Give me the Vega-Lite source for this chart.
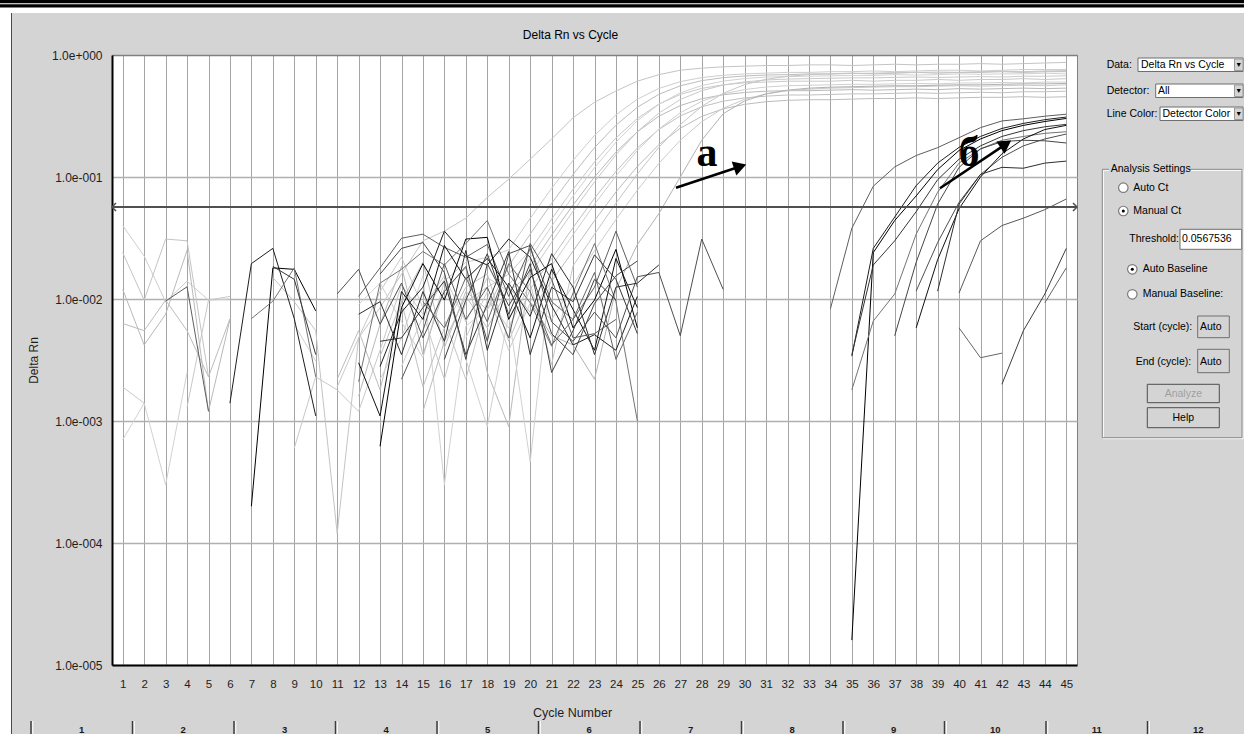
{
"$schema": "https://vega.github.io/schema/vega-lite/v6.json",
"background": "#d4d4d4",
"padding": 0,
"autosize": {"type": "pad"},
"spacing": 0,
"bounds": "full",
"config": {"view": {"stroke": null}, "font": "Liberation Sans", "concat": {"spacing": 0}, "axis": {"labelOverlap": false}},
"datasets": {
"curves": [
{"s":"L1","c":1,"v":0.024},{"s":"L1","c":2,"v":0.0098},{"s":"L1","c":3,"v":0.031},{"s":"L1","c":4,"v":0.03},{"s":"L1","c":5,"v":0.0023},{"s":"L1","c":6,"v":null},{"s":"L1","c":8,"v":0.015},{"s":"L1","c":9,"v":0.0095},{"s":"L1","c":10,"v":0.0055},{"s":"L1","c":11,"v":0.00012},{"s":"L1","c":12,"v":0.0048},{"s":"L1","c":13,"v":0.0085},{"s":"L1","c":14,"v":0.016},{"s":"L1","c":15,"v":0.03},{"s":"L1","c":16,"v":0.036},{"s":"L1","c":17,"v":0.046},{"s":"L1","c":18,"v":0.068},{"s":"L1","c":19,"v":0.096},{"s":"L1","c":20,"v":0.14},{"s":"L1","c":21,"v":0.205},{"s":"L1","c":22,"v":0.306},{"s":"L1","c":23,"v":0.41},{"s":"L1","c":24,"v":0.507},{"s":"L1","c":25,"v":0.61},{"s":"L1","c":26,"v":0.69},{"s":"L1","c":27,"v":0.75},{"s":"L1","c":28,"v":0.78},{"s":"L1","c":29,"v":0.8},{"s":"L1","c":30,"v":0.81},{"s":"L1","c":31,"v":0.82},{"s":"L1","c":32,"v":0.82},{"s":"L1","c":33,"v":0.83},{"s":"L1","c":34,"v":0.83},{"s":"L1","c":35,"v":0.82},{"s":"L1","c":36,"v":0.83},{"s":"L1","c":37,"v":0.84},{"s":"L1","c":38,"v":0.83},{"s":"L1","c":39,"v":0.84},{"s":"L1","c":40,"v":0.84},{"s":"L1","c":41,"v":0.85},{"s":"L1","c":42,"v":0.84},{"s":"L1","c":43,"v":0.85},{"s":"L1","c":44,"v":0.86},{"s":"L1","c":45,"v":0.87},
{"s":"L2","c":1,"v":0.04},{"s":"L2","c":2,"v":0.0225},{"s":"L2","c":3,"v":0.0095},{"s":"L2","c":4,"v":0.014},{"s":"L2","c":5,"v":0.0098},{"s":"L2","c":6,"v":0.01},{"s":"L2","c":7,"v":null},{"s":"L2","c":12,"v":0.009},{"s":"L2","c":13,"v":0.0135},{"s":"L2","c":14,"v":0.0065},{"s":"L2","c":15,"v":0.0033},{"s":"L2","c":16,"v":0.014},{"s":"L2","c":17,"v":0.02},{"s":"L2","c":18,"v":0.022},{"s":"L2","c":19,"v":0.0253},{"s":"L2","c":20,"v":0.0457},{"s":"L2","c":21,"v":0.0807},{"s":"L2","c":22,"v":0.137},{"s":"L2","c":23,"v":0.219},{"s":"L2","c":24,"v":0.323},{"s":"L2","c":25,"v":0.434},{"s":"L2","c":26,"v":0.532},{"s":"L2","c":27,"v":0.605},{"s":"L2","c":28,"v":0.653},{"s":"L2","c":29,"v":0.682},{"s":"L2","c":30,"v":0.7},{"s":"L2","c":31,"v":0.71},{"s":"L2","c":32,"v":0.72},{"s":"L2","c":33,"v":0.72},{"s":"L2","c":34,"v":0.73},{"s":"L2","c":35,"v":0.73},{"s":"L2","c":36,"v":0.74},{"s":"L2","c":37,"v":0.73},{"s":"L2","c":38,"v":0.74},{"s":"L2","c":39,"v":0.75},{"s":"L2","c":40,"v":0.75},{"s":"L2","c":41,"v":0.74},{"s":"L2","c":42,"v":0.75},{"s":"L2","c":43,"v":0.76},{"s":"L2","c":44,"v":0.76},{"s":"L2","c":45,"v":0.76},
{"s":"L3","c":1,"v":0.0063},{"s":"L3","c":2,"v":0.0055},{"s":"L3","c":3,"v":0.0098},{"s":"L3","c":4,"v":0.0055},{"s":"L3","c":5,"v":0.0023},{"s":"L3","c":6,"v":0.0069},{"s":"L3","c":7,"v":null},{"s":"L3","c":11,"v":0.0022},{"s":"L3","c":12,"v":0.0055},{"s":"L3","c":13,"v":0.0018},{"s":"L3","c":14,"v":0.0095},{"s":"L3","c":15,"v":0.02},{"s":"L3","c":16,"v":0.004},{"s":"L3","c":17,"v":0.0115},{"s":"L3","c":18,"v":0.0082},{"s":"L3","c":19,"v":0.0187},{"s":"L3","c":20,"v":0.034},{"s":"L3","c":21,"v":0.0608},{"s":"L3","c":22,"v":0.105},{"s":"L3","c":23,"v":0.174},{"s":"L3","c":24,"v":0.266},{"s":"L3","c":25,"v":0.373},{"s":"L3","c":26,"v":0.476},{"s":"L3","c":27,"v":0.559},{"s":"L3","c":28,"v":0.616},{"s":"L3","c":29,"v":0.652},{"s":"L3","c":30,"v":0.673},{"s":"L3","c":31,"v":0.685},{"s":"L3","c":32,"v":0.69},{"s":"L3","c":33,"v":0.7},{"s":"L3","c":34,"v":0.7},{"s":"L3","c":35,"v":0.71},{"s":"L3","c":36,"v":0.7},{"s":"L3","c":37,"v":0.71},{"s":"L3","c":38,"v":0.72},{"s":"L3","c":39,"v":0.71},{"s":"L3","c":40,"v":0.72},{"s":"L3","c":41,"v":0.72},{"s":"L3","c":42,"v":0.73},{"s":"L3","c":43,"v":0.72},{"s":"L3","c":44,"v":0.73},{"s":"L3","c":45,"v":0.73},
{"s":"L4","c":1,"v":0.0019},{"s":"L4","c":2,"v":0.0014},{"s":"L4","c":3,"v":null},{"s":"L4","c":4,"v":0.0013},{"s":"L4","c":5,"v":0.0098},{"s":"L4","c":6,"v":0.0105},{"s":"L4","c":7,"v":null},{"s":"L4","c":9,"v":0.0006},{"s":"L4","c":10,"v":0.0023},{"s":"L4","c":11,"v":0.0018},{"s":"L4","c":12,"v":0.0012},{"s":"L4","c":13,"v":0.0038},{"s":"L4","c":14,"v":0.013},{"s":"L4","c":15,"v":0.0075},{"s":"L4","c":16,"v":0.0022},{"s":"L4","c":17,"v":0.0095},{"s":"L4","c":18,"v":0.0125},{"s":"L4","c":19,"v":0.016},{"s":"L4","c":20,"v":0.0251},{"s":"L4","c":21,"v":0.0452},{"s":"L4","c":22,"v":0.0793},{"s":"L4","c":23,"v":0.133},{"s":"L4","c":24,"v":0.209},{"s":"L4","c":25,"v":0.302},{"s":"L4","c":26,"v":0.396},{"s":"L4","c":27,"v":0.475},{"s":"L4","c":28,"v":0.532},{"s":"L4","c":29,"v":0.57},{"s":"L4","c":30,"v":0.592},{"s":"L4","c":31,"v":0.6},{"s":"L4","c":32,"v":0.61},{"s":"L4","c":33,"v":0.61},{"s":"L4","c":34,"v":0.61},{"s":"L4","c":35,"v":0.62},{"s":"L4","c":36,"v":0.61},{"s":"L4","c":37,"v":0.62},{"s":"L4","c":38,"v":0.62},{"s":"L4","c":39,"v":0.63},{"s":"L4","c":40,"v":0.62},{"s":"L4","c":41,"v":0.63},{"s":"L4","c":42,"v":0.63},{"s":"L4","c":43,"v":0.64},{"s":"L4","c":44,"v":0.63},{"s":"L4","c":45,"v":0.64},
{"s":"L5","c":1,"v":0.0007},{"s":"L5","c":2,"v":0.0014},{"s":"L5","c":3,"v":0.0003},{"s":"L5","c":4,"v":0.0025},{"s":"L5","c":5,"v":null},{"s":"L5","c":9,"v":0.0062},{"s":"L5","c":10,"v":0.0031},{"s":"L5","c":11,"v":null},{"s":"L5","c":13,"v":0.0022},{"s":"L5","c":14,"v":0.0048},{"s":"L5","c":15,"v":0.0155},{"s":"L5","c":16,"v":0.0003},{"s":"L5","c":17,"v":0.006},{"s":"L5","c":18,"v":0.0082},{"s":"L5","c":19,"v":0.013},{"s":"L5","c":20,"v":0.0217},{"s":"L5","c":21,"v":0.0394},{"s":"L5","c":22,"v":0.0698},{"s":"L5","c":23,"v":0.119},{"s":"L5","c":24,"v":0.193},{"s":"L5","c":25,"v":0.289},{"s":"L5","c":26,"v":0.394},{"s":"L5","c":27,"v":0.489},{"s":"L5","c":28,"v":0.562},{"s":"L5","c":29,"v":0.611},{"s":"L5","c":30,"v":0.641},{"s":"L5","c":31,"v":0.66},{"s":"L5","c":32,"v":0.665},{"s":"L5","c":33,"v":0.67},{"s":"L5","c":34,"v":0.675},{"s":"L5","c":35,"v":0.68},{"s":"L5","c":36,"v":0.68},{"s":"L5","c":37,"v":0.69},{"s":"L5","c":38,"v":0.685},{"s":"L5","c":39,"v":0.69},{"s":"L5","c":40,"v":0.7},{"s":"L5","c":41,"v":0.695},{"s":"L5","c":42,"v":0.7},{"s":"L5","c":43,"v":0.7},{"s":"L5","c":44,"v":0.71},{"s":"L5","c":45,"v":0.7},
{"s":"L6","c":1,"v":0.012},{"s":"L6","c":2,"v":0.0042},{"s":"L6","c":3,"v":0.0075},{"s":"L6","c":4,"v":0.025},{"s":"L6","c":5,"v":0.0012},{"s":"L6","c":6,"v":0.0068},{"s":"L6","c":7,"v":null},{"s":"L6","c":12,"v":0.0016},{"s":"L6","c":13,"v":0.0062},{"s":"L6","c":14,"v":0.0185},{"s":"L6","c":15,"v":0.0035},{"s":"L6","c":16,"v":0.012},{"s":"L6","c":17,"v":0.018},{"s":"L6","c":18,"v":0.0025},{"s":"L6","c":19,"v":0.0009},{"s":"L6","c":20,"v":0.0185},{"s":"L6","c":21,"v":0.0334},{"s":"L6","c":22,"v":0.059},{"s":"L6","c":23,"v":0.1},{"s":"L6","c":24,"v":0.16},{"s":"L6","c":25,"v":0.235},{"s":"L6","c":26,"v":0.315},{"s":"L6","c":27,"v":0.385},{"s":"L6","c":28,"v":0.438},{"s":"L6","c":29,"v":0.472},{"s":"L6","c":30,"v":0.493},{"s":"L6","c":31,"v":0.505},{"s":"L6","c":32,"v":0.51},{"s":"L6","c":33,"v":0.51},{"s":"L6","c":34,"v":0.515},{"s":"L6","c":35,"v":0.52},{"s":"L6","c":36,"v":0.515},{"s":"L6","c":37,"v":0.52},{"s":"L6","c":38,"v":0.525},{"s":"L6","c":39,"v":0.52},{"s":"L6","c":40,"v":0.53},{"s":"L6","c":41,"v":0.525},{"s":"L6","c":42,"v":0.53},{"s":"L6","c":43,"v":0.535},{"s":"L6","c":44,"v":0.53},{"s":"L6","c":45,"v":0.535},
{"s":"L7","c":11,"v":0.0019},{"s":"L7","c":12,"v":0.0048},{"s":"L7","c":13,"v":0.0115},{"s":"L7","c":14,"v":0.022},{"s":"L7","c":15,"v":0.0085},{"s":"L7","c":16,"v":0.0155},{"s":"L7","c":17,"v":0.0065},{"s":"L7","c":18,"v":0.015},{"s":"L7","c":19,"v":0.0115},{"s":"L7","c":20,"v":0.016},{"s":"L7","c":21,"v":0.0292},{"s":"L7","c":22,"v":0.0524},{"s":"L7","c":23,"v":0.0912},{"s":"L7","c":24,"v":0.152},{"s":"L7","c":25,"v":0.235},{"s":"L7","c":26,"v":0.334},{"s":"L7","c":27,"v":0.431},{"s":"L7","c":28,"v":0.51},{"s":"L7","c":29,"v":0.567},{"s":"L7","c":30,"v":0.602},{"s":"L7","c":31,"v":0.624},{"s":"L7","c":32,"v":0.635},{"s":"L7","c":33,"v":0.64},{"s":"L7","c":34,"v":0.645},{"s":"L7","c":35,"v":0.65},{"s":"L7","c":36,"v":0.65},{"s":"L7","c":37,"v":0.655},{"s":"L7","c":38,"v":0.66},{"s":"L7","c":39,"v":0.655},{"s":"L7","c":40,"v":0.66},{"s":"L7","c":41,"v":0.665},{"s":"L7","c":42,"v":0.66},{"s":"L7","c":43,"v":0.67},{"s":"L7","c":44,"v":0.67},{"s":"L7","c":45,"v":0.675},
{"s":"L8","c":13,"v":0.0034},{"s":"L8","c":14,"v":0.0095},{"s":"L8","c":15,"v":0.0019},{"s":"L8","c":16,"v":0.0058},{"s":"L8","c":17,"v":0.0125},{"s":"L8","c":18,"v":0.016},{"s":"L8","c":19,"v":0.0045},{"s":"L8","c":20,"v":0.012},{"s":"L8","c":21,"v":0.0214},{"s":"L8","c":22,"v":0.0385},{"s":"L8","c":23,"v":0.067},{"s":"L8","c":24,"v":0.111},{"s":"L8","c":25,"v":0.173},{"s":"L8","c":26,"v":0.245},{"s":"L8","c":27,"v":0.317},{"s":"L8","c":28,"v":0.376},{"s":"L8","c":29,"v":0.418},{"s":"L8","c":30,"v":0.445},{"s":"L8","c":31,"v":0.46},{"s":"L8","c":32,"v":0.47},{"s":"L8","c":33,"v":0.47},{"s":"L8","c":34,"v":0.475},{"s":"L8","c":35,"v":0.48},{"s":"L8","c":36,"v":0.48},{"s":"L8","c":37,"v":0.485},{"s":"L8","c":38,"v":0.49},{"s":"L8","c":39,"v":0.485},{"s":"L8","c":40,"v":0.49},{"s":"L8","c":41,"v":0.495},{"s":"L8","c":42,"v":0.49},{"s":"L8","c":43,"v":0.5},{"s":"L8","c":44,"v":0.5},{"s":"L8","c":45,"v":0.505},
{"s":"L9","c":14,"v":0.0028},{"s":"L9","c":15,"v":0.0072},{"s":"L9","c":16,"v":0.0145},{"s":"L9","c":17,"v":0.0032},{"s":"L9","c":18,"v":0.0009},{"s":"L9","c":19,"v":0.0075},{"s":"L9","c":20,"v":0.00046},{"s":"L9","c":21,"v":0.0186},{"s":"L9","c":22,"v":0.0336},{"s":"L9","c":23,"v":0.0597},{"s":"L9","c":24,"v":0.102},{"s":"L9","c":25,"v":0.165},{"s":"L9","c":26,"v":0.247},{"s":"L9","c":27,"v":0.336},{"s":"L9","c":28,"v":0.417},{"s":"L9","c":29,"v":0.48},{"s":"L9","c":30,"v":0.521},{"s":"L9","c":31,"v":0.547},{"s":"L9","c":32,"v":0.56},{"s":"L9","c":33,"v":0.565},{"s":"L9","c":34,"v":0.57},{"s":"L9","c":35,"v":0.575},{"s":"L9","c":36,"v":0.575},{"s":"L9","c":37,"v":0.58},{"s":"L9","c":38,"v":0.585},{"s":"L9","c":39,"v":0.58},{"s":"L9","c":40,"v":0.59},{"s":"L9","c":41,"v":0.59},{"s":"L9","c":42,"v":0.595},{"s":"L9","c":43,"v":0.59},{"s":"L9","c":44,"v":0.6},{"s":"L9","c":45,"v":0.6},
{"s":"L10","c":15,"v":0.0012},{"s":"L10","c":16,"v":0.0045},{"s":"L10","c":17,"v":0.0105},{"s":"L10","c":18,"v":0.0058},{"s":"L10","c":19,"v":0.0125},{"s":"L10","c":20,"v":0.0078},{"s":"L10","c":21,"v":0.014},{"s":"L10","c":22,"v":0.0247},{"s":"L10","c":23,"v":0.0439},{"s":"L10","c":24,"v":0.0753},{"s":"L10","c":25,"v":0.122},{"s":"L10","c":26,"v":0.184},{"s":"L10","c":27,"v":0.251},{"s":"L10","c":28,"v":0.314},{"s":"L10","c":29,"v":0.362},{"s":"L10","c":30,"v":0.394},{"s":"L10","c":31,"v":0.414},{"s":"L10","c":32,"v":0.425},{"s":"L10","c":33,"v":0.43},{"s":"L10","c":34,"v":0.43},{"s":"L10","c":35,"v":0.435},{"s":"L10","c":36,"v":0.44},{"s":"L10","c":37,"v":0.44},{"s":"L10","c":38,"v":0.445},{"s":"L10","c":39,"v":0.44},{"s":"L10","c":40,"v":0.445},{"s":"L10","c":41,"v":0.45},{"s":"L10","c":42,"v":0.45},{"s":"L10","c":43,"v":0.455},{"s":"L10","c":44,"v":0.45},{"s":"L10","c":45,"v":0.455},
{"s":"L11","c":16,"v":0.0068},{"s":"L11","c":17,"v":0.0022},{"s":"L11","c":18,"v":0.0098},{"s":"L11","c":19,"v":0.0058},{"s":"L11","c":20,"v":0.0135},{"s":"L11","c":21,"v":0.0029},{"s":"L11","c":22,"v":0.0187},{"s":"L11","c":23,"v":0.034},{"s":"L11","c":24,"v":0.061},{"s":"L11","c":25,"v":0.106},{"s":"L11","c":26,"v":0.175},{"s":"L11","c":27,"v":0.269},{"s":"L11","c":28,"v":0.379},{"s":"L11","c":29,"v":0.485},{"s":"L11","c":30,"v":0.572},{"s":"L11","c":31,"v":0.632},{"s":"L11","c":32,"v":0.67},{"s":"L11","c":33,"v":0.69},{"s":"L11","c":34,"v":0.7},{"s":"L11","c":35,"v":0.705},{"s":"L11","c":36,"v":0.71},{"s":"L11","c":37,"v":0.715},{"s":"L11","c":38,"v":0.72},{"s":"L11","c":39,"v":0.725},{"s":"L11","c":40,"v":0.72},{"s":"L11","c":41,"v":0.73},{"s":"L11","c":42,"v":0.735},{"s":"L11","c":43,"v":0.73},{"s":"L11","c":44,"v":0.74},{"s":"L11","c":45,"v":0.745},
{"s":"L12","c":17,"v":0.0048},{"s":"L12","c":18,"v":0.0115},{"s":"L12","c":19,"v":0.0038},{"s":"L12","c":20,"v":0.0092},{"s":"L12","c":21,"v":0.0068},{"s":"L12","c":22,"v":0.013},{"s":"L12","c":23,"v":0.025},{"s":"L12","c":24,"v":0.0448},{"s":"L12","c":25,"v":0.078},{"s":"L12","c":26,"v":0.129},{"s":"L12","c":27,"v":0.2},{"s":"L12","c":28,"v":0.284},{"s":"L12","c":29,"v":0.366},{"s":"L12","c":30,"v":0.433},{"s":"L12","c":31,"v":0.48},{"s":"L12","c":32,"v":0.51},{"s":"L12","c":33,"v":0.525},{"s":"L12","c":34,"v":0.535},{"s":"L12","c":35,"v":0.54},{"s":"L12","c":36,"v":0.545},{"s":"L12","c":37,"v":0.55},{"s":"L12","c":38,"v":0.55},{"s":"L12","c":39,"v":0.555},{"s":"L12","c":40,"v":0.56},{"s":"L12","c":41,"v":0.555},{"s":"L12","c":42,"v":0.56},{"s":"L12","c":43,"v":0.565},{"s":"L12","c":44,"v":0.56},{"s":"L12","c":45,"v":0.57},
{"s":"L13","c":20,"v":0.0095},{"s":"L13","c":21,"v":0.005},{"s":"L13","c":22,"v":0.0042},{"s":"L13","c":23,"v":0.0022},{"s":"L13","c":24,"v":0.012},{"s":"L13","c":25,"v":0.028},{"s":"L13","c":26,"v":0.05},{"s":"L13","c":27,"v":0.1},{"s":"L13","c":28,"v":0.2},{"s":"L13","c":29,"v":0.33},{"s":"L13","c":30,"v":0.42},{"s":"L13","c":31,"v":0.48},{"s":"L13","c":32,"v":0.515},{"s":"L13","c":33,"v":0.535},{"s":"L13","c":34,"v":0.545},{"s":"L13","c":35,"v":0.55},{"s":"L13","c":36,"v":0.555},{"s":"L13","c":37,"v":0.56},{"s":"L13","c":38,"v":0.56},{"s":"L13","c":39,"v":0.565},{"s":"L13","c":40,"v":0.57},{"s":"L13","c":41,"v":0.57},{"s":"L13","c":42,"v":0.575},{"s":"L13","c":43,"v":0.58},{"s":"L13","c":44,"v":0.58},{"s":"L13","c":45,"v":0.585},
{"s":"D1","c":3,"v":0.0096},{"s":"D1","c":4,"v":0.0126},{"s":"D1","c":5,"v":0.0012},{"s":"D1","c":6,"v":null},{"s":"D1","c":12,"v":0.0105},{"s":"D1","c":13,"v":0.018},{"s":"D1","c":14,"v":0.0315},{"s":"D1","c":15,"v":0.034},{"s":"D1","c":16,"v":0.0265},{"s":"D1","c":17,"v":0.022},{"s":"D1","c":18,"v":0.028},{"s":"D1","c":19,"v":0.0105},{"s":"D1","c":20,"v":0.026},{"s":"D1","c":21,"v":0.0095},{"s":"D1","c":22,"v":0.0068},{"s":"D1","c":23,"v":0.0125},{"s":"D1","c":24,"v":0.036},{"s":"D1","c":25,"v":0.0125},{"s":"D1","c":26,"v":null},{"s":"D1","c":34,"v":0.0083},{"s":"D1","c":35,"v":0.038},{"s":"D1","c":36,"v":0.084},{"s":"D1","c":37,"v":0.121},{"s":"D1","c":38,"v":0.15},{"s":"D1","c":39,"v":0.174},{"s":"D1","c":40,"v":0.21},{"s":"D1","c":41,"v":0.254},{"s":"D1","c":42,"v":0.288},{"s":"D1","c":43,"v":0.3},{"s":"D1","c":44,"v":0.315},{"s":"D1","c":45,"v":0.327},
{"s":"D2","c":6,"v":0.0014},{"s":"D2","c":7,"v":0.0195},{"s":"D2","c":8,"v":0.026},{"s":"D2","c":9,"v":0.0069},{"s":"D2","c":10,"v":0.0011},{"s":"D2","c":11,"v":null},{"s":"D2","c":13,"v":0.0028},{"s":"D2","c":14,"v":0.0078},{"s":"D2","c":15,"v":0.0125},{"s":"D2","c":16,"v":0.036},{"s":"D2","c":17,"v":0.0225},{"s":"D2","c":18,"v":0.019},{"s":"D2","c":19,"v":0.031},{"s":"D2","c":20,"v":0.022},{"s":"D2","c":21,"v":0.0088},{"s":"D2","c":22,"v":0.0042},{"s":"D2","c":23,"v":0.0051},{"s":"D2","c":24,"v":0.0038},{"s":"D2","c":25,"v":0.0105},{"s":"D2","c":26,"v":null},{"s":"D2","c":35,"v":0.0034},{"s":"D2","c":36,"v":0.026},{"s":"D2","c":37,"v":0.047},{"s":"D2","c":38,"v":0.085},{"s":"D2","c":39,"v":0.13},{"s":"D2","c":40,"v":0.175},{"s":"D2","c":41,"v":0.215},{"s":"D2","c":42,"v":0.25},{"s":"D2","c":43,"v":0.275},{"s":"D2","c":44,"v":0.295},{"s":"D2","c":45,"v":0.31},
{"s":"D3","c":7,"v":0.0002},{"s":"D3","c":8,"v":0.018},{"s":"D3","c":9,"v":0.0175},{"s":"D3","c":10,"v":0.008},{"s":"D3","c":11,"v":null},{"s":"D3","c":13,"v":0.00062},{"s":"D3","c":14,"v":0.0085},{"s":"D3","c":15,"v":0.0195},{"s":"D3","c":16,"v":0.0098},{"s":"D3","c":17,"v":0.031},{"s":"D3","c":18,"v":0.032},{"s":"D3","c":19,"v":0.0068},{"s":"D3","c":20,"v":0.015},{"s":"D3","c":21,"v":0.0195},{"s":"D3","c":22,"v":0.0058},{"s":"D3","c":23,"v":0.0098},{"s":"D3","c":24,"v":0.0255},{"s":"D3","c":25,"v":0.0058},{"s":"D3","c":26,"v":null},{"s":"D3","c":35,"v":0.000016},{"s":"D3","c":36,"v":0.024},{"s":"D3","c":37,"v":0.044},{"s":"D3","c":38,"v":0.07},{"s":"D3","c":39,"v":0.115},{"s":"D3","c":40,"v":0.165},{"s":"D3","c":41,"v":0.205},{"s":"D3","c":42,"v":0.24},{"s":"D3","c":43,"v":0.265},{"s":"D3","c":44,"v":0.285},{"s":"D3","c":45,"v":0.302},
{"s":"D4","c":7,"v":0.0069},{"s":"D4","c":8,"v":0.0096},{"s":"D4","c":9,"v":0.018},{"s":"D4","c":10,"v":0.0023},{"s":"D4","c":11,"v":null},{"s":"D4","c":12,"v":0.0021},{"s":"D4","c":13,"v":0.0135},{"s":"D4","c":14,"v":0.0175},{"s":"D4","c":15,"v":0.0245},{"s":"D4","c":16,"v":0.019},{"s":"D4","c":17,"v":0.0285},{"s":"D4","c":18,"v":0.044},{"s":"D4","c":19,"v":0.016},{"s":"D4","c":20,"v":0.0093},{"s":"D4","c":21,"v":0.0041},{"s":"D4","c":22,"v":0.0112},{"s":"D4","c":23,"v":0.0285},{"s":"D4","c":24,"v":0.0095},{"s":"D4","c":25,"v":0.001},{"s":"D4","c":26,"v":null},{"s":"D4","c":35,"v":0.0018},{"s":"D4","c":36,"v":0.0066},{"s":"D4","c":37,"v":0.011},{"s":"D4","c":38,"v":0.034},{"s":"D4","c":39,"v":0.075},{"s":"D4","c":40,"v":0.13},{"s":"D4","c":41,"v":0.17},{"s":"D4","c":42,"v":0.2},{"s":"D4","c":43,"v":0.215},{"s":"D4","c":44,"v":0.228},{"s":"D4","c":45,"v":0.235},
{"s":"D5","c":8,"v":0.0185},{"s":"D5","c":9,"v":0.0145},{"s":"D5","c":10,"v":0.0035},{"s":"D5","c":11,"v":null},{"s":"D5","c":13,"v":0.0045},{"s":"D5","c":14,"v":0.0048},{"s":"D5","c":15,"v":0.0085},{"s":"D5","c":16,"v":0.014},{"s":"D5","c":17,"v":0.0035},{"s":"D5","c":18,"v":0.009},{"s":"D5","c":19,"v":0.0245},{"s":"D5","c":20,"v":0.0035},{"s":"D5","c":21,"v":0.0125},{"s":"D5","c":22,"v":0.0095},{"s":"D5","c":23,"v":0.023},{"s":"D5","c":24,"v":0.0145},{"s":"D5","c":25,"v":0.0052},{"s":"D5","c":26,"v":null},{"s":"D5","c":35,"v":0.0035},{"s":"D5","c":36,"v":0.019},{"s":"D5","c":37,"v":0.03},{"s":"D5","c":38,"v":0.052},{"s":"D5","c":39,"v":0.095},{"s":"D5","c":40,"v":0.14},{"s":"D5","c":41,"v":0.18},{"s":"D5","c":42,"v":0.215},{"s":"D5","c":43,"v":0.24},{"s":"D5","c":44,"v":0.258},{"s":"D5","c":45,"v":0.27},
{"s":"D6","c":11,"v":0.011},{"s":"D6","c":12,"v":0.0175},{"s":"D6","c":13,"v":0.0062},{"s":"D6","c":14,"v":0.0135},{"s":"D6","c":15,"v":0.0048},{"s":"D6","c":16,"v":0.0115},{"s":"D6","c":17,"v":0.0185},{"s":"D6","c":18,"v":0.0045},{"s":"D6","c":19,"v":0.0235},{"s":"D6","c":20,"v":0.0275},{"s":"D6","c":21,"v":0.0065},{"s":"D6","c":22,"v":0.0045},{"s":"D6","c":23,"v":0.0078},{"s":"D6","c":24,"v":0.0048},{"s":"D6","c":25,"v":0.0152},{"s":"D6","c":26,"v":0.0165},{"s":"D6","c":27,"v":0.005},{"s":"D6","c":28,"v":0.031},{"s":"D6","c":29,"v":0.012},{"s":"D6","c":30,"v":null},{"s":"D6","c":38,"v":0.0116},{"s":"D6","c":39,"v":0.029},{"s":"D6","c":40,"v":0.062},{"s":"D6","c":41,"v":0.105},{"s":"D6","c":42,"v":0.145},{"s":"D6","c":43,"v":0.18},{"s":"D6","c":44,"v":0.205},{"s":"D6","c":45,"v":0.225},
{"s":"D7","c":12,"v":0.003},{"s":"D7","c":13,"v":0.0011},{"s":"D7","c":14,"v":0.0115},{"s":"D7","c":15,"v":0.0068},{"s":"D7","c":16,"v":0.0275},{"s":"D7","c":17,"v":0.0145},{"s":"D7","c":18,"v":0.0215},{"s":"D7","c":19,"v":0.0125},{"s":"D7","c":20,"v":0.0048},{"s":"D7","c":21,"v":0.0175},{"s":"D7","c":22,"v":0.0082},{"s":"D7","c":23,"v":0.0038},{"s":"D7","c":24,"v":0.0215},{"s":"D7","c":25,"v":0.0085},{"s":"D7","c":26,"v":null},{"s":"D7","c":38,"v":0.0058},{"s":"D7","c":39,"v":0.021},{"s":"D7","c":40,"v":0.055},{"s":"D7","c":41,"v":0.1},{"s":"D7","c":42,"v":0.155},{"s":"D7","c":43,"v":0.205},{"s":"D7","c":44,"v":0.245},{"s":"D7","c":45,"v":0.265},
{"s":"D8","c":13,"v":0.016},{"s":"D8","c":14,"v":0.026},{"s":"D8","c":15,"v":0.029},{"s":"D8","c":16,"v":0.0165},{"s":"D8","c":17,"v":0.0032},{"s":"D8","c":18,"v":0.0195},{"s":"D8","c":19,"v":0.0088},{"s":"D8","c":20,"v":0.0175},{"s":"D8","c":21,"v":0.0052},{"s":"D8","c":22,"v":0.0035},{"s":"D8","c":23,"v":0.0092},{"s":"D8","c":24,"v":0.0155},{"s":"D8","c":25,"v":0.0205},{"s":"D8","c":26,"v":null},{"s":"D8","c":37,"v":0.005},{"s":"D8","c":38,"v":0.02},{"s":"D8","c":39,"v":0.06},{"s":"D8","c":40,"v":0.12},{"s":"D8","c":41,"v":0.17},{"s":"D8","c":42,"v":0.195},{"s":"D8","c":43,"v":0.2},{"s":"D8","c":44,"v":0.198},{"s":"D8","c":45,"v":0.19},
{"s":"D9","c":12,"v":0.0075},{"s":"D9","c":13,"v":0.0095},{"s":"D9","c":14,"v":0.0035},{"s":"D9","c":15,"v":0.0115},{"s":"D9","c":16,"v":0.0045},{"s":"D9","c":17,"v":0.025},{"s":"D9","c":18,"v":0.0038},{"s":"D9","c":19,"v":0.0135},{"s":"D9","c":20,"v":0.0072},{"s":"D9","c":21,"v":0.0235},{"s":"D9","c":22,"v":0.0125},{"s":"D9","c":23,"v":0.0035},{"s":"D9","c":24,"v":0.0125},{"s":"D9","c":25,"v":0.0135},{"s":"D9","c":26,"v":0.019},{"s":"D9","c":27,"v":null},{"s":"D9","c":39,"v":0.0116},{"s":"D9","c":40,"v":0.06},{"s":"D9","c":41,"v":0.105},{"s":"D9","c":42,"v":0.12},{"s":"D9","c":43,"v":0.118},{"s":"D9","c":44,"v":0.13},{"s":"D9","c":45,"v":0.135},
{"s":"D10","c":14,"v":0.0022},{"s":"D10","c":15,"v":0.0055},{"s":"D10","c":16,"v":0.0195},{"s":"D10","c":17,"v":0.0068},{"s":"D10","c":18,"v":0.0125},{"s":"D10","c":19,"v":0.0048},{"s":"D10","c":20,"v":0.0285},{"s":"D10","c":21,"v":0.0145},{"s":"D10","c":22,"v":0.0048},{"s":"D10","c":23,"v":0.0052},{"s":"D10","c":24,"v":0.0068},{"s":"D10","c":25,"v":null},{"s":"D10","c":40,"v":0.0112},{"s":"D10","c":41,"v":0.03},{"s":"D10","c":42,"v":0.04},{"s":"D10","c":43,"v":0.046},{"s":"D10","c":44,"v":0.054},{"s":"D10","c":45,"v":0.066},
{"s":"D11","c":15,"v":0.0095},{"s":"D11","c":16,"v":0.0058},{"s":"D11","c":17,"v":0.015},{"s":"D11","c":18,"v":0.0065},{"s":"D11","c":19,"v":0.0195},{"s":"D11","c":20,"v":0.0115},{"s":"D11","c":21,"v":0.0042},{"s":"D11","c":22,"v":0.0068},{"s":"D11","c":23,"v":0.0165},{"s":"D11","c":24,"v":0.0032},{"s":"D11","c":25,"v":0.0078},{"s":"D11","c":26,"v":null},{"s":"D11","c":40,"v":0.0058},{"s":"D11","c":41,"v":0.0033},{"s":"D11","c":42,"v":0.0036},{"s":"D11","c":43,"v":null},{"s":"D11","c":44,"v":0.0093},{"s":"D11","c":45,"v":0.018},
{"s":"D12","c":16,"v":0.0032},{"s":"D12","c":17,"v":0.0098},{"s":"D12","c":18,"v":0.0235},{"s":"D12","c":19,"v":0.0075},{"s":"D12","c":20,"v":0.0195},{"s":"D12","c":21,"v":0.0025},{"s":"D12","c":22,"v":0.0055},{"s":"D12","c":23,"v":0.0145},{"s":"D12","c":24,"v":0.0098},{"s":"D12","c":25,"v":null},{"s":"D12","c":42,"v":0.002},{"s":"D12","c":43,"v":0.0055},{"s":"D12","c":44,"v":0.011},{"s":"D12","c":45,"v":0.026}
],
"threshold": [{"c": 0.5, "c2": 45.5, "v": 0.0567536}],
"thresholdEnds": [{"c": 0.5, "v": 0.0567536, "end": "left"}, {"c": 45.5, "v": 0.0567536, "end": "right"}],
"arrows": [
{"arrow": "a", "part": "tail", "c": 26.8, "v": 0.0817},
{"arrow": "a", "part": "head", "c": 29.79, "v": 0.122},
{"arrow": "b", "part": "tail", "c": 39.11, "v": 0.0808},
{"arrow": "b", "part": "head", "c": 42.18, "v": 0.186}
],
"letters": [{"t": "a", "c": 28.25, "v": 0.123}, {"t": "б", "c": 40.46, "v": 0.123}],
"cells": [{"cell":"1"},{"cell":"2"},{"cell":"3"},{"cell":"4"},{"cell":"5"},{"cell":"6"},{"cell":"7"},{"cell":"8"},{"cell":"9"},{"cell":"10"},{"cell":"11"},{"cell":"12"}],
"dialog": [
{"el":"frame","col":25.3,"col2":165,"row":114.3,"row2":382.7},
{"el":"lblbg","col":32,"col2":111,"row":108,"row2":121},
{"el":"box","col":61,"col2":166,"row":3,"row2":16.5},
{"el":"box","col":78.7,"col2":166,"row":29,"row2":42.5},
{"el":"box","col":83,"col2":166,"row":52,"row2":65.5},
{"el":"box","col":103,"col2":164.7,"row":174.3,"row2":194.3},
{"el":"gbox","col":120.7,"col2":152.3,"row":261,"row2":282.7},
{"el":"gbox","col":120.7,"col2":152.3,"row":294.3,"row2":317.7},
{"el":"btn","col":70.3,"col2":142.3,"row":329.3,"row2":347.7},
{"el":"btn","col":70.3,"col2":142.3,"row":352.7,"row2":372.7},
{"el":"abtn","col":157.5,"col2":166,"row":4,"row2":15.5},
{"el":"abtn","col":157.5,"col2":166,"row":30,"row2":41.5},
{"el":"abtn","col":157.5,"col2":166,"row":53,"row2":64.5},
{"el":"radio","col":46.3,"row":132.7},
{"el":"radio","col":46.3,"row":156},
{"el":"radio","col":55.3,"row":214.3},
{"el":"radio","col":55.3,"row":239.3},
{"el":"dot","col":46.3,"row":156},
{"el":"dot","col":55.3,"row":214.3},
{"el":"txt","t":"Data:","col":29.7,"row":9.8},
{"el":"txt","t":"Detector:","col":29.7,"row":35.8},
{"el":"txt","t":"Line Color:","col":29.7,"row":58.8},
{"el":"txt","t":"Delta Rn vs Cycle","col":64,"row":9.8},
{"el":"txt","t":"All","col":81,"row":35.8},
{"el":"txt","t":"Detector Color","col":85.5,"row":58.8},
{"el":"txt","t":"Analysis Settings","col":33.7,"row":114.3},
{"el":"txt","t":"Auto Ct","col":56.3,"row":132.7},
{"el":"txt","t":"Manual Ct","col":56.3,"row":156},
{"el":"txt","t":"Threshold:","col":52.3,"row":184},
{"el":"txt","t":"0.0567536","col":105,"row":184},
{"el":"txt","t":"Auto Baseline","col":65.7,"row":214.3},
{"el":"txt","t":"Manual Baseline:","col":65.7,"row":239.3},
{"el":"txt","t":"Start (cycle):","col":56.3,"row":271.7},
{"el":"txt","t":"Auto","col":123,"row":271.7},
{"el":"txt","t":"End (cycle):","col":58.7,"row":306.5},
{"el":"txt","t":"Auto","col":123,"row":306.5},
{"el":"ctxt","t":"Analyze","col":106.3,"row":338.5,"st":"off"},
{"el":"ctxt","t":"Help","col":106.3,"row":362.7,"st":"on"},
{"el":"arrow","t":"▼","col":161.7,"row":9.8},
{"el":"arrow","t":"▼","col":161.7,"row":35.8},
{"el":"arrow","t":"▼","col":161.7,"row":58.8}
]
},
"vconcat": [
{
"width": 1244, "height": 13,
"view": {"fill": "#ffffff", "stroke": null},
"data": {"values": [{"bar": "outer"}, {"bar": "inner"}]},
"mark": {"type": "rect", "color": "#000000"},
"encoding": {
"y": {"field": "bar", "type": "nominal", "scale": {"type": "band", "domain": ["outer", "inner"], "range": [0, 7.6], "paddingInner": 0.25, "paddingOuter": 0}, "axis": null}
}
},
{
"spacing": 0,
"bounds": "full",
"hconcat": [
{"width": 11, "height": 721, "data": {"values": [{}]}, "mark": {"type": "rect", "color": "#ffffff"}, "encoding": {}},
{"width": 1, "height": 721, "data": {"values": [{}]}, "mark": {"type": "rect", "color": "#4a4a4a"}, "encoding": {}},
{
"spacing": 0,
"bounds": "full",
"vconcat": [
{"width": 1232, "height": 15, "data": {"values": [{}]}, "mark": {"type": "rect", "color": "#d4d4d4"}, "encoding": {}},
{
"spacing": 0,
"bounds": "flush",
"hconcat": [
{"width": 100, "height": 610, "data": {"values": [{}]}, "mark": {"type": "rect", "color": "#d4d4d4"}, "encoding": {}},
{
"width": 965, "height": 610,
"view": {"fill": "#ffffff", "stroke": "#808080", "strokeWidth": 1},
"title": {"text": "Delta Rn vs Cycle", "fontSize": 12, "fontWeight": "normal", "color": "#000000", "offset": 7, "dx": -24},
"encoding": {
"x": {"field": "c", "type": "quantitative", "scale": {"domain": [0.5, 45.5], "nice": false, "zero": false},
"axis": {"values": [1,2,3,4,5,6,7,8,9,10,11,12,13,14,15,16,17,18,19,20,21,22,23,24,25,26,27,28,29,30,31,32,33,34,35,36,37,38,39,40,41,42,43,44,45],
"title": "Cycle Number", "grid": true, "gridColor": "#a4a4a4", "gridWidth": 1, "ticks": false,
"domainColor": "#000000", "domainWidth": 2, "labelFontSize": 11.5, "labelColor": "#1e1e1e", "labelPadding": 13,
"labelOverlap": false, "labelFlush": false, "labelSeparation": 0, "titleFontSize": 12.5, "titleFontWeight": "normal", "titleColor": "#1e1e1e",
"titleX": 460, "titleY": 41.5, "titleBaseline": "top"}},
"y": {"field": "v", "type": "quantitative", "scale": {"type": "log", "domain": [0.00001, 1], "nice": false},
"axis": {"values": [0.00001, 0.0001, 0.001, 0.01, 0.1, 1],
"labelExpr": "datum.value >= 1 ? '1.0e+000' : '1.0e-00' + format(-log(datum.value)/LN10, '.0f')",
"title": "Delta Rn", "grid": true, "gridColor": {"condition": {"test": "datum.value >= 1", "value": "#808080"}, "value": "#b0b0b0"}, "gridWidth": 1.5, "ticks": false,
"domainColor": "#000000", "domainWidth": 2, "labelFontSize": 12, "labelColor": "#1e1e1e", "labelPadding": 10, "labelOverlap": false,
"titleFontSize": 12, "titleFontWeight": "normal", "titleColor": "#1e1e1e", "titleX": -79, "titleY": 305, "titleAngle": 270, "titleBaseline": "middle", "titleAlign": "center"}}
},
"layer": [
{
"data": {"name": "curves"},
"mark": {"type": "line", "strokeWidth": 1, "invalid": "break-paths-filter-domains", "clip": true},
"encoding": {
"color": {"field": "s", "type": "nominal", "legend": null,
"scale": {"domain": ["L1","L2","L3","L4","L5","L6","L7","L8","L9","L10","L11","L12","L13","D1","D2","D3","D4","D5","D6","D7","D8","D9","D10","D11","D12"],
"range": ["#c4c4c4","#cecece","#bdbdbd","#c8c8c8","#d2d2d2","#b9b9b9","#cacaca","#c1c1c1","#d0d0d0","#bcbcbc","#c6c6c6","#cccccc","#b2b2b2","#5e5e5e","#1e1e1e","#000000","#747474","#363636","#4e4e4e","#101010","#464646","#2e2e2e","#585858","#666666","#3e3e3e"]}}
}
},
{
"data": {"name": "threshold"},
"mark": {"type": "rule", "color": "#505050", "strokeWidth": 2},
"encoding": {"x2": {"field": "c2"}}
},
{
"data": {"name": "thresholdEnds"},
"mark": {"type": "point", "filled": false, "color": "#505050", "strokeWidth": 1.5, "size": 64, "opacity": 1},
"encoding": {
"shape": {"field": "end", "type": "nominal", "legend": null, "scale": {"domain": ["left", "right"], "range": ["M 1 -1 L 0 0 L 1 1", "M -1 -1 L 0 0 L -1 1"]}}
}
},
{
"data": {"name": "arrows"},
"mark": {"type": "line", "color": "#000000", "strokeWidth": 2.5},
"encoding": {"detail": {"field": "arrow", "type": "nominal"}}
},
{
"data": {"name": "arrows"},
"transform": [{"filter": "datum.part == 'head' && datum.arrow == 'a'"}],
"mark": {"type": "point", "shape": "triangle-up", "filled": true, "color": "#000000", "size": 220, "angle": 71.7, "opacity": 1}
},
{
"data": {"name": "arrows"},
"transform": [{"filter": "datum.part == 'head' && datum.arrow == 'b'"}],
"mark": {"type": "point", "shape": "triangle-up", "filled": true, "color": "#000000", "size": 220, "angle": 56.2, "opacity": 1}
},
{
"data": {"name": "letters"},
"mark": {"type": "text", "font": "Liberation Serif", "fontSize": 42, "fontWeight": "bold", "baseline": "alphabetic", "align": "center", "color": "#000000"},
"encoding": {"text": {"field": "t"}}
}
]
},
{
"width": 167, "height": 610,
"data": {"name": "dialog"},
"encoding": {
"x": {"field": "col", "type": "quantitative", "scale": {"domain": [0, 167], "nice": false, "zero": false}, "axis": null},
"y": {"field": "row", "type": "quantitative", "scale": {"domain": [0, 610], "nice": false, "zero": false, "reverse": true}, "axis": null}
},
"layer": [
{"transform": [{"filter": "datum.el == 'frame'"}], "mark": {"type": "rect", "filled": false, "stroke": "#ffffff", "strokeWidth": 1, "xOffset": 1, "yOffset": 1, "x2Offset": 1, "y2Offset": 1}, "encoding": {"x2": {"field": "col2"}, "y2": {"field": "row2"}}},
{"transform": [{"filter": "datum.el == 'frame'"}], "mark": {"type": "rect", "filled": false, "stroke": "#8a8a8a", "strokeWidth": 1}, "encoding": {"x2": {"field": "col2"}, "y2": {"field": "row2"}}},
{"transform": [{"filter": "datum.el == 'lblbg'"}], "mark": {"type": "rect", "fill": "#d4d4d4", "stroke": null}, "encoding": {"x2": {"field": "col2"}, "y2": {"field": "row2"}}},
{"transform": [{"filter": "datum.el == 'box'"}], "mark": {"type": "rect", "fill": "#ffffff", "stroke": "#6e6e6e", "strokeWidth": 1}, "encoding": {"x2": {"field": "col2"}, "y2": {"field": "row2"}}},
{"transform": [{"filter": "datum.el == 'gbox'"}], "mark": {"type": "rect", "fill": "#d4d4d4", "stroke": "#6e6e6e", "strokeWidth": 1}, "encoding": {"x2": {"field": "col2"}, "y2": {"field": "row2"}}},
{"transform": [{"filter": "datum.el == 'btn'"}], "mark": {"type": "rect", "fill": "#d4d4d4", "stroke": "#4e4e4e", "strokeWidth": 1}, "encoding": {"x2": {"field": "col2"}, "y2": {"field": "row2"}}},
{"transform": [{"filter": "datum.el == 'abtn'"}], "mark": {"type": "rect", "fill": "#d4d4d4", "stroke": "#9a9a9a", "strokeWidth": 1}, "encoding": {"x2": {"field": "col2"}, "y2": {"field": "row2"}}},
{"transform": [{"filter": "datum.el == 'radio'"}], "mark": {"type": "point", "shape": "circle", "filled": true, "fill": "#ffffff", "stroke": "#7a7a7a", "strokeWidth": 1.2, "size": 90, "opacity": 1}},
{"transform": [{"filter": "datum.el == 'dot'"}], "mark": {"type": "point", "shape": "circle", "filled": true, "color": "#000000", "size": 9, "opacity": 1}},
{"transform": [{"filter": "datum.el == 'txt'"}], "mark": {"type": "text", "align": "left", "baseline": "middle", "fontSize": 10.5, "color": "#000000"}, "encoding": {"text": {"field": "t"}}},
{"transform": [{"filter": "datum.el == 'ctxt'"}], "mark": {"type": "text", "align": "center", "baseline": "middle", "fontSize": 10.5}, "encoding": {"text": {"field": "t"}, "color": {"condition": {"test": "datum.st == 'off'", "value": "#a0a0a0"}, "value": "#000000"}}},
{"transform": [{"filter": "datum.el == 'arrow'"}], "mark": {"type": "text", "align": "center", "baseline": "middle", "fontSize": 7, "color": "#000000"}, "encoding": {"text": {"field": "t"}}}
]
}
]
},
{
"spacing": 0,
"bounds": "flush",
"hconcat": [
{"width": 19, "height": 15, "data": {"values": [{}]}, "mark": {"type": "rect", "color": "#d4d4d4"}, "encoding": {}},
{
"width": 1212, "height": 15,
"view": {"fill": "#d4d4d4", "stroke": null},
"data": {"name": "cells"},
"encoding": {
"x": {"field": "cell", "type": "ordinal", "scale": {"type": "band", "domain": ["1","2","3","4","5","6","7","8","9","10","11","12"], "range": [0, 1218], "paddingInner": 0, "paddingOuter": 0}, "axis": null}
},
"layer": [
{"mark": {"type": "rule", "color": "#3c3c3c", "strokeWidth": 1.5}, "encoding": {"x": {"field": "cell", "type": "ordinal", "bandPosition": 0}}},
{"mark": {"type": "rule", "color": "#ffffff", "strokeWidth": 1, "xOffset": 1.8}, "encoding": {"x": {"field": "cell", "type": "ordinal", "bandPosition": 0}}},
{"mark": {"type": "text", "fontSize": 9.5, "fontWeight": "bold", "color": "#1a1a1a", "baseline": "middle", "dy": 1.5}, "encoding": {"x": {"field": "cell", "type": "ordinal", "bandPosition": 0.5}, "text": {"field": "cell"}}}
]
}
]
}
]
}
]
}
]
}
